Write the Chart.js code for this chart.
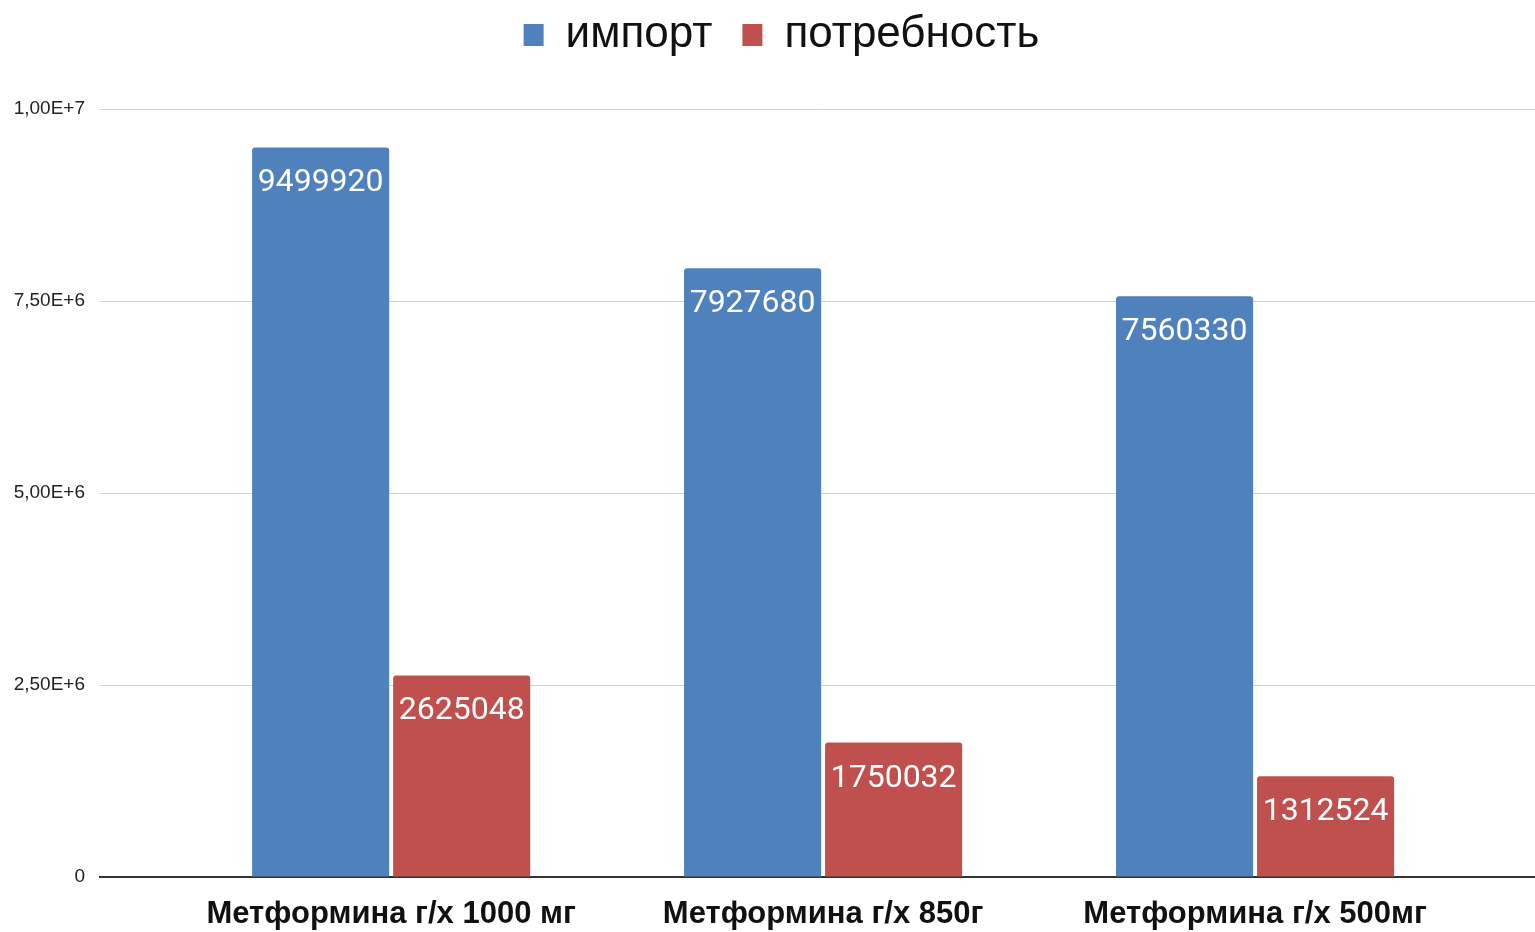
<!DOCTYPE html>
<html>
<head>
<meta charset="utf-8">
<script src="https://cdn.jsdelivr.net/npm/chart.js@4.4.1/dist/chart.umd.min.js"></script>
<style>
  html, body { margin: 0; padding: 0; background: #ffffff; }
  #wrap { width: 1535px; height: 932px; position: relative; }
</style>
</head>
<body>
<div id="wrap"><canvas id="c"></canvas></div>
<script>
const categories = ['Метформина г/х 1000 мг', 'Метформина г/х 850г', 'Метформина г/х 500мг'];
const seriesNames = ['импорт', 'потребность'];
const importValues = [9499920, 7927680, 7560330];
const needValues = [2625048, 1750032, 1312524];
const yTickValues = [0, 2500000, 5000000, 7500000, 10000000];
const yTickLabels = ['0', '2,50E+6', '5,00E+6', '7,50E+6', '1,00E+7'];

const toPoints = arr => arr.map((v, i) => ({ x: i, y: v }));

const dataLabelPlugin = {
  id: 'dataLabels',
  afterDatasetsDraw(chart) {
    const ctx = chart.ctx;
    ctx.save();
    ctx.font = '32px Roboto';
    ctx.fillStyle = '#ffffff';
    ctx.textAlign = 'center';
    ctx.textBaseline = 'alphabetic';
    chart.data.datasets.forEach((ds, di) => {
      const meta = chart.getDatasetMeta(di);
      meta.data.forEach((bar, i) => {
        const v = ds.data[i].y;
        ctx.fillText(String(v), bar.x, bar.y + 44);
      });
    });
    ctx.restore();
  }
};

const legendSpacing = {
  id: 'legendSpacing',
  beforeInit(chart) {
    const origFit = chart.legend.fit;
    chart.legend.fit = function () {
      origFit.call(this);
      this.height += 42;
    };
  },
  afterLayout(chart) {
    chart.legend.left += 14;
    chart.legend.right += 14;
  }
};

new Chart(document.getElementById('c'), {
  type: 'bar',
  data: {
    datasets: [
      {
        label: seriesNames[0],
        data: toPoints(importValues),
        backgroundColor: '#4f81bd',
        borderRadius: 3,
        categoryPercentage: 0.653,
        barPercentage: 0.972
      },
      {
        label: seriesNames[1],
        data: toPoints(needValues),
        backgroundColor: '#c0504d',
        borderRadius: 3,
        categoryPercentage: 0.653,
        barPercentage: 0.972
      }
    ]
  },
  options: {
    responsive: true,
    maintainAspectRatio: false,
    animation: false,
    layout: { padding: { top: -17, right: 0, left: 0, bottom: 0 } },
    plugins: {
      legend: {
        position: 'top',
        align: 'center',
        labels: {
          boxWidth: 20,
          boxHeight: 22,
          padding: 30,
          color: '#111111',
          font: { family: "'Liberation Sans', Arial, sans-serif", size: 44 }
        }
      },
      tooltip: { enabled: false }
    },
    scales: {
      x: {
        type: 'linear',
        min: -0.674,
        max: 2.648,
        offset: false,
        afterBuildTicks(scale) {
          scale.ticks = categories.map((c, i) => ({ value: i }));
        },
        afterFit(scale) { scale.height = 55; },
        grid: { display: false, drawTicks: false },
        border: { display: true, color: '#333333', width: 2 },
        ticks: {
          padding: 19,
          color: '#111111',
          maxRotation: 0,
          autoSkip: false,
          font: { family: "'Liberation Sans', Arial, sans-serif", size: 31, weight: 'bold' },
          callback: (v) => categories[v] !== undefined ? categories[v] : ''
        }
      },
      y: {
        min: 0,
        max: 10000000,
        afterBuildTicks(scale) {
          scale.ticks = yTickValues.map(v => ({ value: v }));
        },
        afterFit(scale) { scale.width = 100; },
        grid: { color: '#d0d0d0', lineWidth: 1, drawTicks: false },
        border: { display: false },
        ticks: {
          padding: 15,
          color: '#222222',
          font: { family: "'Liberation Sans', Arial, sans-serif", size: 19 },
          callback: (v) => {
            const i = yTickValues.indexOf(v);
            return i >= 0 ? yTickLabels[i] : '';
          }
        }
      }
    }
  },
  plugins: [dataLabelPlugin, legendSpacing]
});
</script>
</body>
</html>
